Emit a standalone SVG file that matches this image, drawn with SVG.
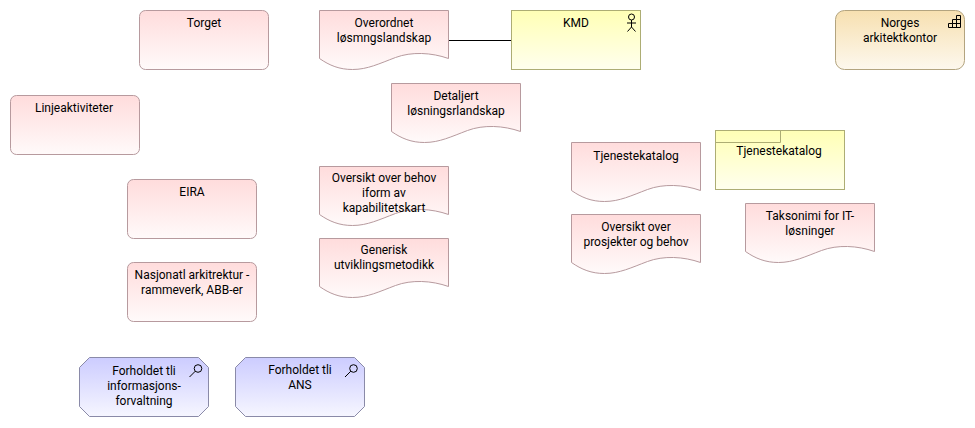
<svg xmlns="http://www.w3.org/2000/svg" xmlns:xlink="http://www.w3.org/1999/xlink" width="975" height="428" viewBox="0 0 975 428">
<style>
text{font-family:Roboto,"Open Sans","Liberation Sans",sans-serif;font-size:12px;fill:#000;text-anchor:middle}
.p{fill:url(#pink);stroke:#b79a9e;stroke-width:1}
.y{fill:url(#yel);stroke:#adad74;stroke-width:1}
.o{fill:url(#org);stroke:#b3a47f;stroke-width:1}
.b{fill:url(#blu);stroke:#8a8aa8;stroke-width:1}
.i{fill:none;stroke:#000;stroke-width:1}
.c{fill:none;stroke:#000;stroke-width:1}
</style>
<defs>
<linearGradient id="pink" x1="0" y1="0" x2="0" y2="1"><stop offset="0" stop-color="#ffdcdc"/><stop offset="1" stop-color="#fffafa"/></linearGradient>
<linearGradient id="yel" x1="0" y1="0" x2="0" y2="1"><stop offset="0" stop-color="#ffffb5"/><stop offset="1" stop-color="#ffffee"/></linearGradient>
<linearGradient id="org" x1="0" y1="0" x2="0" y2="1"><stop offset="0" stop-color="#f7e0b0"/><stop offset="1" stop-color="#fdf8ee"/></linearGradient>
<linearGradient id="blu" x1="0" y1="0" x2="0" y2="1"><stop offset="0" stop-color="#ccccff"/><stop offset="1" stop-color="#f6f6ff"/></linearGradient>
<path id="doc" d="M0 0H129V48C112 42 92 41 76 47C60 53 48 59 33 59C20 59 10 55 0 48Z"/>
<path id="oct" d="M10 0H119L129 10V49L119 59H10L0 49V10Z"/>
<g id="lens"><circle cx="3.500" cy="-3.500" r="3.800" fill="none" stroke="#000"/><path d="M0.800 -0.800L-5 5" stroke="#000" fill="none"/></g>
</defs>
<g id="connectors"><path class="c" d="M449 40.500H511"/></g>
<g id="torget"><rect class="p" x="139.500" y="10.500" width="129" height="59" rx="6"/><text x="204" y="27">Torget</text></g>
<g id="linjeaktiviteter"><rect class="p" x="10.500" y="95.500" width="129" height="59" rx="6"/><text x="74" y="112">Linjeaktiviteter</text></g>
<g id="eira"><rect class="p" x="127.500" y="179.500" width="129" height="59" rx="6"/><text x="192" y="196">EIRA</text></g>
<g id="nasjonalt"><rect class="p" x="127.500" y="262.500" width="129" height="59" rx="6"/><text x="192" y="279">Nasjonatl arkitrektur -</text><text x="192" y="294">rammeverk, ABB-er</text></g>
<g id="overordnet"><use href="#doc" class="p" x="319.500" y="10.500"/><text x="384" y="27">Overordnet</text><text x="384" y="42">løsmngslandskap</text></g>
<g id="kmd"><rect class="y" x="511.500" y="10.500" width="129" height="59"/><text x="576" y="27">KMD</text><g class="i"><circle cx="631.500" cy="17" r="3"/><path d="M631.500 20V27M627 23H636M631.500 27L627.500 31.500M631.500 27L635.500 31.500"/></g></g>
<g id="norges"><rect class="o" x="835.500" y="10.500" width="129" height="59" rx="9"/><text x="900" y="27">Norges</text><text x="900" y="42">arkitektkontor</text><path class="i" d="M948.500 27.500H960.500V15.500H956.500V19.500H952.500V23.500H948.500ZM952.500 23.500V27.500M956.500 19.500V27.500M952.500 23.500H960.500M956.500 19.500H960.500"/></g>
<g id="detaljert"><use href="#doc" class="p" x="391.500" y="83.500"/><text x="456" y="100">Detaljert</text><text x="456" y="115">løsningsrlandskap</text></g>
<g id="tjenestekatalog-doc"><use href="#doc" class="p" x="571.500" y="142.500"/><text x="636" y="160">Tjenestekatalog</text></g>
<g id="tjenestekatalog-pkg"><rect class="y" x="715.500" y="130.500" width="129" height="59"/><path class="y" style="fill:none" d="M715.500 142.500H780.500V130.500"/><text x="779" y="155">Tjenestekatalog</text></g>
<g id="oversikt-behov"><use href="#doc" class="p" x="319.500" y="166.500"/><text x="384" y="182">Oversikt over behov</text><text x="384" y="197">iform av</text><text x="384" y="212">kapabilitetskart</text></g>
<g id="generisk"><use href="#doc" class="p" x="319.500" y="238.500"/><text x="384" y="254">Generisk</text><text x="384" y="269">utviklingsmetodikk</text></g>
<g id="oversikt-prosjekter"><use href="#doc" class="p" x="571.500" y="214.500"/><text x="636" y="231">Oversikt over</text><text x="636" y="246">prosjekter og behov</text></g>
<g id="taksonomi"><use href="#doc" class="p" x="745.500" y="203.500"/><text x="810" y="220">Taksonimi for IT-</text><text x="810" y="235">løsninger</text></g>
<g id="forhold-info"><use href="#oct" class="b" x="79.500" y="357.500"/><text x="144" y="375">Forholdet tli</text><text x="144" y="390">informasjons-</text><text x="144" y="405">forvaltning</text><use href="#lens" x="194.500" y="372"/></g>
<g id="forhold-ans"><use href="#oct" class="b" x="235.500" y="357.500"/><text x="300" y="374">Forholdet tli</text><text x="300" y="389">ANS</text><use href="#lens" x="350" y="372"/></g>
</svg>
